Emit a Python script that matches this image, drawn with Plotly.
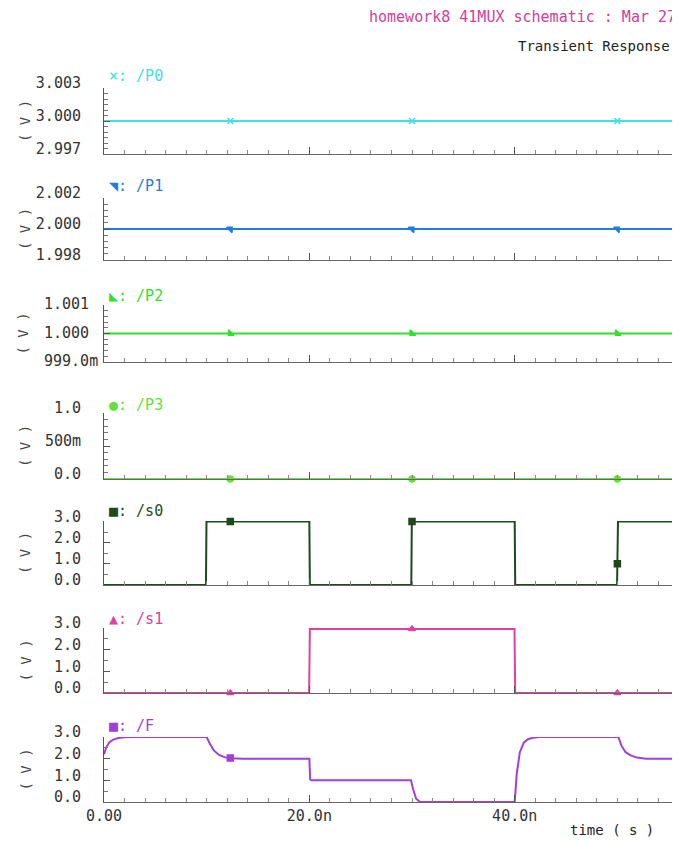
import numpy as np
import plotly.graph_objects as go
from plotly.subplots import make_subplots

# ---- data (time in ns, volts) ----
t_flat = [0.0, 56.1]
P0 = [3.0, 3.0]
P1 = [2.0, 2.0]
P2 = [1.0, 1.0]
P3 = [0.0, 0.0]

s0_t = [0, 9.93, 9.98, 20.0, 20.05, 29.93, 29.98, 40.0, 40.05, 49.97, 50.06, 56.1]
s0_v = [0, 0, 3.0, 3.0, 0, 0, 3.0, 3.0, 0, 0, 3.0, 3.0]

s1_t = [0, 19.98, 20.05, 39.98, 40.05, 56.1]
s1_v = [0, 0, 2.95, 2.95, 0, 0]

F_t = [0, 0.2, 0.5, 0.9, 1.4, 2.0, 2.8, 10.0, 10.3, 10.7, 11.2, 11.8, 12.5, 13.5,
       20.0, 20.08, 20.2, 29.9, 30.1, 30.4, 30.8, 40.0, 40.2, 40.5, 40.9, 41.3, 41.8, 42.4,
       50.1, 50.4, 50.8, 51.3, 51.9, 52.8, 56.1]
F_v = [2.2, 2.5, 2.75, 2.88, 2.95, 2.99, 3.0, 3.0, 2.7, 2.38, 2.17, 2.06, 2.02, 2.0,
       2.0, 1.05, 1.0, 1.0, 0.6, 0.15, 0.0, 0.0, 1.3, 2.3, 2.75, 2.9, 2.97, 3.0,
       3.0, 2.6, 2.3, 2.15, 2.05, 2.0, 2.0]

marker_t = [12.3, 30.0, 50.0]
F_marker_t = [12.3]

x_tickvals = [0, 20, 40]
x_ticktext = ["0.00", "20.0n", "40.0n"]

panels = [
    ("/P0", t_flat, P0, "#3fe0e6", "x-thin", "×", [2.997, 3.003],
     [2.997, 3.0, 3.003], ["2.997", "3.000", "3.003"], 0.0005, marker_t),
    ("/P1", t_flat, P1, "#1f7ee0", "triangle-ne", "◥", [1.998, 2.002],
     [1.998, 2.0, 2.002], ["1.998", "2.000", "2.002"], 0.0004, marker_t),
    ("/P2", t_flat, P2, "#2fe02f", "triangle-sw", "◣", [0.999, 1.001],
     [0.999, 1.0, 1.001], ["999.0m", "1.000", "1.001"], 0.0002, marker_t),
    ("/P3", t_flat, P3, "#66e03a", "circle", "●", [0.0, 1.0],
     [0.0, 0.5, 1.0], ["0.0", "500m", "1.0"], 0.1, marker_t),
    ("/s0", s0_t, s0_v, "#1d4a1d", "square", "■", [0.0, 3.02],
     [0, 1, 2, 3], ["0.0", "1.0", "2.0", "3.0"], 0.5, marker_t),
    ("/s1", s1_t, s1_v, "#e0409e", "triangle-up", "▲", [0.0, 3.0],
     [0, 1, 2, 3], ["0.0", "1.0", "2.0", "3.0"], 0.5, marker_t),
    ("/F", F_t, F_v, "#a33ed6", "square", "■", [0.0, 3.0],
     [0, 1, 2, 3], ["0.0", "1.0", "2.0", "3.0"], 0.5, F_marker_t),
]

# page-pixel extents of each panel (top, bottom)
pix = [(88, 154), (198, 260), (305, 362), (413, 479), (521, 585), (628, 693), (737, 802)]
legend_y = [76, 186, 296, 405, 511, 619, 726]
vlabel_x = [25, 25, 22, 25, 25, 25, 25]
LEFT_ALIGNED_PANEL = 2   # the P2 panel's labels are left-aligned in the original

# the page body has an 8px margin; compensate so page pixels line up
OFF = 8
FW, FH = 680 - OFF, 842 - OFF
PLOT_L, PLOT_R = 104.0, 680.0

def py(p):
    return 1 - (p - OFF) / FH

def px(p):
    return (p - PLOT_L) / (PLOT_R - PLOT_L)

fig = make_subplots(rows=7, cols=1, shared_xaxes=True)
FONT = "DejaVu Sans Mono"
TICKFONT = dict(family=FONT, size=15, color="#333")

for i, (name, t, v, col, sym, glyph, yr, tv, tt, mn, mt) in enumerate(panels):
    r = i + 1
    fig.add_trace(go.Scatter(x=t, y=v, mode="lines", line=dict(color=col, width=2),
                             showlegend=False, hoverinfo="skip"), row=r, col=1)
    my = np.interp(mt, t, v)
    fig.add_trace(go.Scatter(x=mt, y=my, mode="markers",
                             marker=dict(symbol=sym, color=col, size=6,
                                         line=dict(color=col, width=1.5)),
                             showlegend=False, hoverinfo="skip", cliponaxis=False), row=r, col=1)
    top, bot = pix[i]
    yname = "yaxis" if r == 1 else f"yaxis{r}"
    xname = "xaxis" if r == 1 else f"xaxis{r}"
    yref = "y" if r == 1 else f"y{r}"
    left_aligned = (i == LEFT_ALIGNED_PANEL)
    fig.layout[yname].update(
        domain=[py(bot), py(top)], range=yr, tickvals=tv, ticktext=tt,
        showticklabels=not left_aligned,
        ticks="inside", ticklen=6, tickcolor="#555", showline=True, linecolor="#555",
        linewidth=1, showgrid=False, zeroline=False, automargin=False,
        ticklabelshift=-5, ticklabelstandoff=19,
        tickfont=TICKFONT,
        minor=dict(dtick=mn, ticks="inside", ticklen=4, tickcolor="#777", showgrid=False),
    )
    if left_aligned:
        for val, lab in zip(tv, tt):
            fig.add_annotation(x=px(42), y=val, xref="paper", yref=yref, text=lab,
                               showarrow=False, xanchor="left", yanchor="middle",
                               yshift=1, font=TICKFONT)
    fig.layout[xname].update(
        range=[0, 56.1], tickvals=x_tickvals, ticktext=x_ticktext,
        ticks="inside", ticklen=7, tickcolor="#555", showline=True, linecolor="#666",
        linewidth=1, showgrid=False, zeroline=False, automargin=False,
        showticklabels=(r == 7),
        tickfont=TICKFONT,
        minor=dict(dtick=2, ticks="inside", ticklen=4, tickcolor="#888", showgrid=False),
    )
    fig.add_annotation(x=px(107), y=py(legend_y[i]), xref="paper", yref="paper",
                       text=f"{glyph}: {name}", showarrow=False, xanchor="left",
                       yanchor="middle", font=dict(family=FONT, size=15, color=col))
    fig.add_annotation(x=px(vlabel_x[i]), y=py((top + bot) / 2), xref="paper", yref="paper",
                       text="( V )", showarrow=False, textangle=-90,
                       xanchor="center", yanchor="middle",
                       font=dict(family=FONT, size=14, color="#444"))

fig.add_annotation(x=px(367), y=py(17), xref="paper", yref="paper",
                   text="homework8 41MUX schematic : Mar 27", showarrow=False,
                   xanchor="left", yanchor="middle",
                   font=dict(family=FONT, size=15, color="#d0409a"))
fig.add_annotation(x=px(672), y=py(46), xref="paper", yref="paper",
                   text="Transient Response", showarrow=False,
                   xanchor="right", yanchor="middle",
                   font=dict(family=FONT, size=14, color="#222"))
fig.add_annotation(x=px(612), y=py(830), xref="paper", yref="paper",
                   text="time ( s )", showarrow=False,
                   xanchor="center", yanchor="middle",
                   font=dict(family=FONT, size=14, color="#222"))

fig.update_layout(width=FW, height=FH, margin=dict(l=PLOT_L - OFF, r=0, t=0, b=0),
                  plot_bgcolor="white", paper_bgcolor="white")
fig.write_html("out.html")
